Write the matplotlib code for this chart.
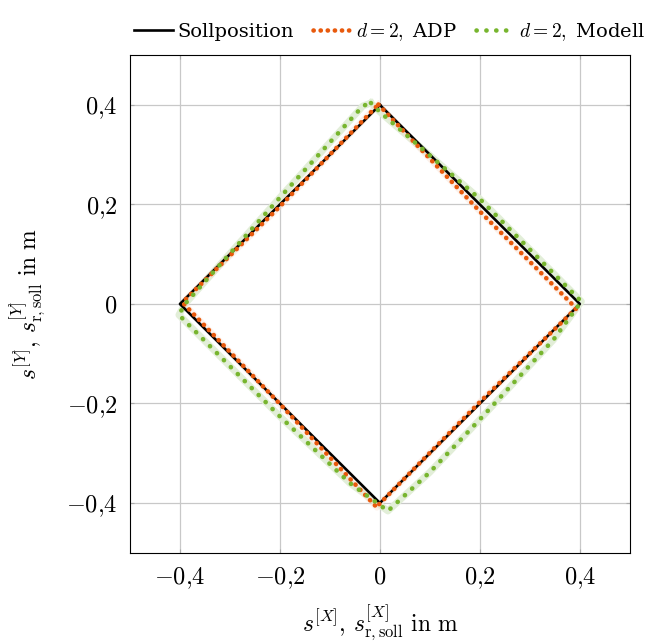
import matplotlib
matplotlib.use("Agg")
import matplotlib.pyplot as plt
import numpy as np

plt.rcParams["mathtext.fontset"] = "cm"
plt.rcParams["font.family"] = ["DejaVu Serif"]

# Target trajectory (square rotated by 45 degrees)
soll_x = [0.0, 0.4, 0.0, -0.4, 0.0]
soll_y = [0.4, 0.0, -0.4, 0.0, 0.4]

# Measured trajectory, adaptive controller (d = 2)
adp_x = [-0.003, 0.2, 0.390, 0.392, 0.385, 0.2, -0.003, -0.006, -0.2, -0.394, -0.392, -0.2, -0.003]
adp_y = [0.401, 0.186, -0.006, -0.010, -0.016, -0.197, -0.404, -0.409, -0.201, 0.002, 0.006, 0.196, 0.401]

# Measured trajectory, model-based controller (d = 2)
mod_x = [-0.018, 0.0, 0.2, 0.403, 0.347, 0.2, 0.1, 0.016, -0.06, -0.2, -0.402, -0.390, -0.2, -0.034, -0.018]
mod_y = [0.404, 0.386, 0.211, 0.005, -0.072, -0.232, -0.338, -0.416, -0.360, -0.226, -0.022, 0.000, 0.214, 0.398, 0.404]

ticks = [-0.4, -0.2, 0.0, 0.2, 0.4]
tick_labels = [r"$-0{,}4$", r"$-0{,}2$", r"$0$", r"$0{,}2$", r"$0{,}4$"]

orange = "#E8590C"
green = "#77B52E"

fig = plt.figure(figsize=(6.63, 6.42), dpi=100)
ax = fig.add_axes([0.196, 0.139, 0.754, 0.775])

ax.set_xlim(-0.5, 0.5)
ax.set_ylim(-0.5, 0.5)
ax.set_xticks(ticks)
ax.set_yticks(ticks)
ax.set_xticklabels(tick_labels)
ax.set_yticklabels(tick_labels)
ax.tick_params(axis="both", labelsize=17.5, direction="in", length=3, color="#aaaaaa",
               top=True, right=True, pad=9)
ax.grid(True, color="#c8c8c8", linewidth=0.9)
ax.set_axisbelow(True)
for sp in ax.spines.values():
    sp.set_linewidth(0.8)
    sp.set_color("black")

# light bands behind the measured trajectories
ax.plot(mod_x, mod_y, color="#e2eed8", linewidth=5, solid_joinstyle="round", zorder=2)
ax.plot(adp_x, adp_y, color="#f9dccb", linewidth=4.5, alpha=0.4, solid_joinstyle="round", zorder=2)

ax.plot(soll_x, soll_y, color="black", linewidth=1.9, zorder=3, label="Sollposition")
ax.plot(adp_x, adp_y, color=orange, linewidth=3.3, linestyle=(0, (0.05, 1.5)),
        dash_capstyle="round", zorder=4, label=r"$d = 2,$ ADP")
ax.plot(mod_x, mod_y, color=green, linewidth=3.3, linestyle=(0, (0.05, 2.1)),
        dash_capstyle="round", zorder=4, label=r"$d = 2,$ Modell")

ax.set_xlabel(r"$s^{[X]},\, s^{[X]}_{\mathrm{r,soll}}\ \mathrm{in\ m}$", fontsize=17, labelpad=8)
ax.set_ylabel(r"$s^{[Y]},\, s^{[Y]}_{\mathrm{r,soll}}\ \mathrm{in\ m}$", fontsize=17, labelpad=14)

leg = ax.legend(loc="lower center", bbox_to_anchor=(0.52, 1.0), ncol=3, frameon=False,
                fontsize=14, handlelength=2.0, handletextpad=0.2, columnspacing=1.0,
                borderaxespad=0.25)

fig.savefig("out.png", dpi=100)
